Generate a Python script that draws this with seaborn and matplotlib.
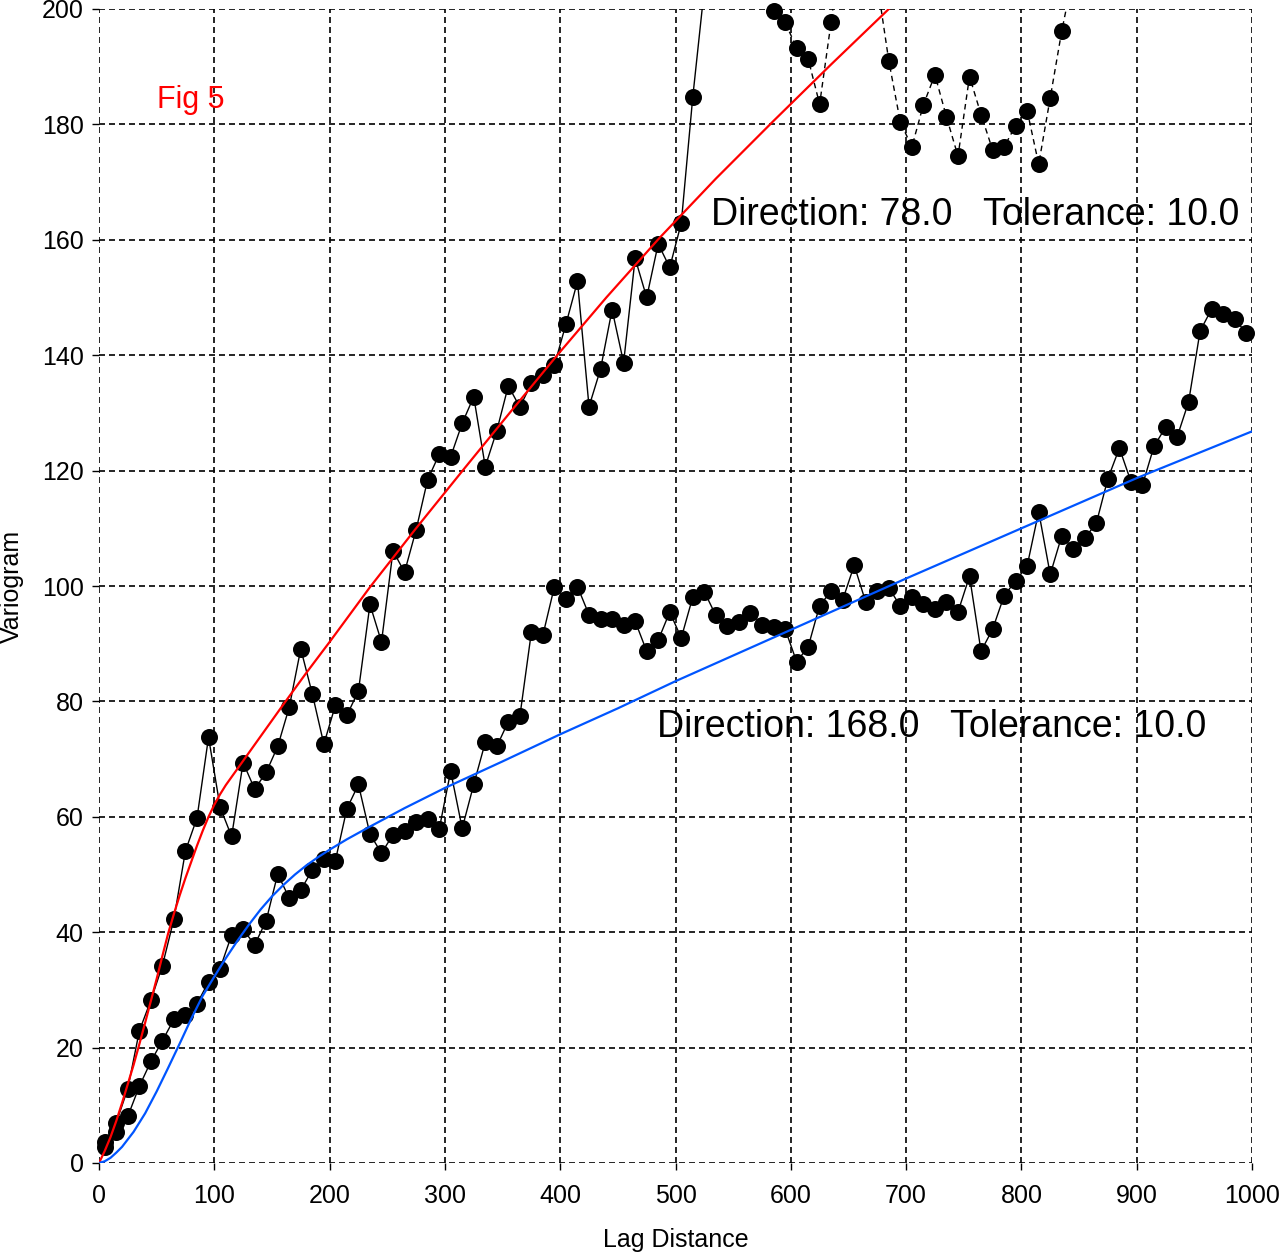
import numpy as np
import pandas as pd
import matplotlib
matplotlib.use("Agg")
import matplotlib.pyplot as plt
import seaborn as sns

# Lag bin centres (regular 10-unit bins)
lags = np.arange(5, 1000, 10)

# Experimental variogram, direction 78.0 (values above 200 run off the top)
gamma_078 = [
    3.6, 7.0, 12.9, 22.9, 28.2, 34.2, 42.3, 54.1, 59.8, 73.8,
    61.7, 56.6, 69.4, 64.8, 67.7, 72.2, 79.0, 89.1, 81.3, 72.6,
    79.3, 77.6, 81.8, 96.8, 90.3, 106.1, 102.4, 109.7, 118.4, 122.8,
    122.4, 128.2, 132.8, 120.7, 126.9, 134.7, 131.0, 135.1, 136.5, 138.3,
    145.4, 152.8, 131.1, 137.6, 147.9, 138.7, 156.8, 150.0, 159.3, 155.2,
    162.9, 184.8, 203.5, 212.0, 220.0, 216.0, 224.0, 210.0, 199.6, 197.7,
    193.3, 191.4, 183.5, 197.8, 213.0, 222.0, 216.0, 204.5, 191.0, 180.4,
    176.1, 183.4, 188.6, 181.3, 174.5, 188.3, 181.7, 175.6, 176.1, 179.8,
    182.4, 173.1, 184.6, 196.2, 206.0, 214.0, 221.0, 218.0, 229.0, 226.0,
    233.0, 238.0, 231.0, 240.0, 236.0, 245.0, 250.0, 243.0, 252.0, 248.0,
]

# Experimental variogram, direction 168.0
gamma_168 = [
    2.8, 5.4, 8.1, 13.3, 17.6, 21.2, 24.9, 25.6, 27.6, 31.4,
    33.7, 39.5, 40.5, 37.8, 42.0, 50.1, 45.9, 47.3, 50.8, 52.6,
    52.4, 61.4, 65.6, 57.0, 53.7, 56.9, 57.5, 59.1, 59.7, 57.8,
    67.9, 58.0, 65.6, 72.9, 72.2, 76.5, 77.4, 92.0, 91.5, 99.9,
    97.8, 99.9, 95.0, 94.3, 94.3, 93.2, 93.9, 88.7, 90.6, 95.5,
    91.0, 98.1, 99.0, 94.9, 93.0, 93.8, 95.4, 93.3, 92.9, 92.6,
    86.9, 89.4, 96.6, 99.1, 97.6, 103.6, 97.2, 99.1, 99.7, 96.5,
    98.1, 96.8, 96.0, 97.2, 95.5, 101.7, 88.7, 92.5, 98.3, 100.9,
    103.5, 112.9, 102.0, 108.7, 106.4, 108.3, 110.9, 118.6, 123.9, 118.1,
    117.5, 124.2, 127.5, 125.8, 131.9, 144.2, 148.0, 147.1, 146.2, 143.9,
]

# Fitted model curves
model_078_lag = [0, 5, 10, 15, 20, 25, 30, 35, 40, 45, 50, 55, 60, 65, 70, 75,
                 80, 85, 90, 95, 100, 105, 110, 115, 120, 130, 140, 150, 160,
                 180, 200, 235, 275, 317, 357, 397, 440, 486, 535, 585, 635,
                 685, 720]
model_078_val = [0, 2.1, 4.5, 7.3, 10.4, 13.7, 17.0, 20.6, 24.3, 28.1, 31.9,
                 35.9, 39.8, 43.2, 46.4, 49.4, 52.2, 55.0, 57.6, 60.0, 62.1,
                 63.9, 65.5, 66.9, 68.3, 71.1, 73.9, 76.7, 79.5, 85.0, 90.3,
                 99.8, 110.0, 120.4, 130.2, 139.9, 150.0, 160.3, 170.6, 180.6,
                 190.4, 200.0, 206.7]

model_168_lag = [0, 5, 10, 15, 20, 30, 40, 50, 60, 70, 80, 90, 100, 110, 120,
                 130, 140, 150, 160, 170, 180, 190, 200, 215, 235, 265, 300,
                 350, 400, 450, 500, 600, 700, 800, 900, 1000]
model_168_val = [0, 0.3, 0.9, 1.8, 2.8, 5.4, 8.6, 12.4, 16.5, 20.7, 25.0,
                 29.0, 32.3, 35.5, 38.5, 41.3, 43.9, 46.2, 48.2, 50.0, 51.6,
                 53.0, 54.3, 56.1, 58.3, 61.5, 65.0, 69.6, 74.3, 78.8, 83.5,
                 92.4, 101.3, 110.0, 118.7, 126.8]

x_ticks = [0, 100, 200, 300, 400, 500, 600, 700, 800, 900, 1000]
y_ticks = [0, 20, 40, 60, 80, 100, 120, 140, 160, 180, 200]

exp078 = pd.DataFrame({"lag": lags, "gamma": gamma_078})
exp168 = pd.DataFrame({"lag": lags, "gamma": gamma_168})
mod078 = pd.DataFrame({"lag": model_078_lag, "gamma": model_078_val})
mod168 = pd.DataFrame({"lag": model_168_lag, "gamma": model_168_val})

sns.set_theme(style="white")
plt.rcParams["font.family"] = ["Liberation Sans", "DejaVu Sans"]

fig = plt.figure(figsize=(12.81, 12.53), dpi=100)
ax = fig.add_axes([99 / 1281, 1 - 1163 / 1253, (1252 - 99) / 1281, (1163 - 9) / 1253])

# connecting lines: 78.0 is solid up to 575, dashed beyond
solid = exp078[exp078["lag"] <= 575]
dashed = exp078[exp078["lag"] >= 575]
sns.lineplot(data=solid, x="lag", y="gamma", color="black", lw=1.0,
             estimator=None, ax=ax, zorder=2)
sns.lineplot(data=dashed, x="lag", y="gamma", color="black", lw=1.0,
             linestyle=(0, (4, 3)), estimator=None, ax=ax, zorder=2)
sns.lineplot(data=exp168, x="lag", y="gamma", color="black", lw=1.0,
             estimator=None, ax=ax, zorder=2)

# experimental points
for df in (exp078, exp168):
    sns.scatterplot(data=df, x="lag", y="gamma", color="black", s=150,
                    linewidth=0, ax=ax, zorder=3, clip_on=False)

# model curves
sns.lineplot(data=mod078, x="lag", y="gamma", color="#ff0000", lw=1.6,
             estimator=None, ax=ax, zorder=4)
sns.lineplot(data=mod168, x="lag", y="gamma", color="#0055ff", lw=1.6,
             estimator=None, ax=ax, zorder=4)

ax.set_xlim(0, 1000)
ax.set_ylim(0, 200)
ax.set_xticks(x_ticks)
ax.set_yticks(y_ticks)
ax.set_xticklabels([str(v) for v in x_ticks])
ax.set_yticklabels([str(v) for v in y_ticks])
ax.grid(True, color="black", linestyle=(0, (3.6, 2.4)), linewidth=1.2)
ax.set_axisbelow(True)
for sp in ax.spines.values():
    sp.set_visible(False)
ax.tick_params(axis="both", which="major", bottom=True, left=True,
               direction="out", length=5, width=1, color="black",
               labelsize=18, labelcolor="black")
ax.tick_params(axis="x", pad=10)
ax.tick_params(axis="y", pad=6)

ax.set_xlabel("Lag Distance", fontsize=18, color="black")
ax.set_ylabel("Variogram", fontsize=18, color="black")
ax.xaxis.label.set_va("center")
ax.yaxis.label.set_va("center")
ax.xaxis.set_label_coords(0.5, -0.0665)
ax.yaxis.set_label_coords(-0.0755, 0.5)

ax.text(531, 164.3, "Direction: 78.0   Tolerance: 10.0", fontsize=27,
        ha="left", va="center", color="black", zorder=5)
ax.text(484, 75.6, "Direction: 168.0   Tolerance: 10.0", fontsize=27,
        ha="left", va="center", color="black", zorder=5)
ax.text(50.3, 184.3, "Fig 5", fontsize=22, ha="left", va="center",
        color="#ff0000", zorder=5)

fig.savefig("out.png", dpi=100)
